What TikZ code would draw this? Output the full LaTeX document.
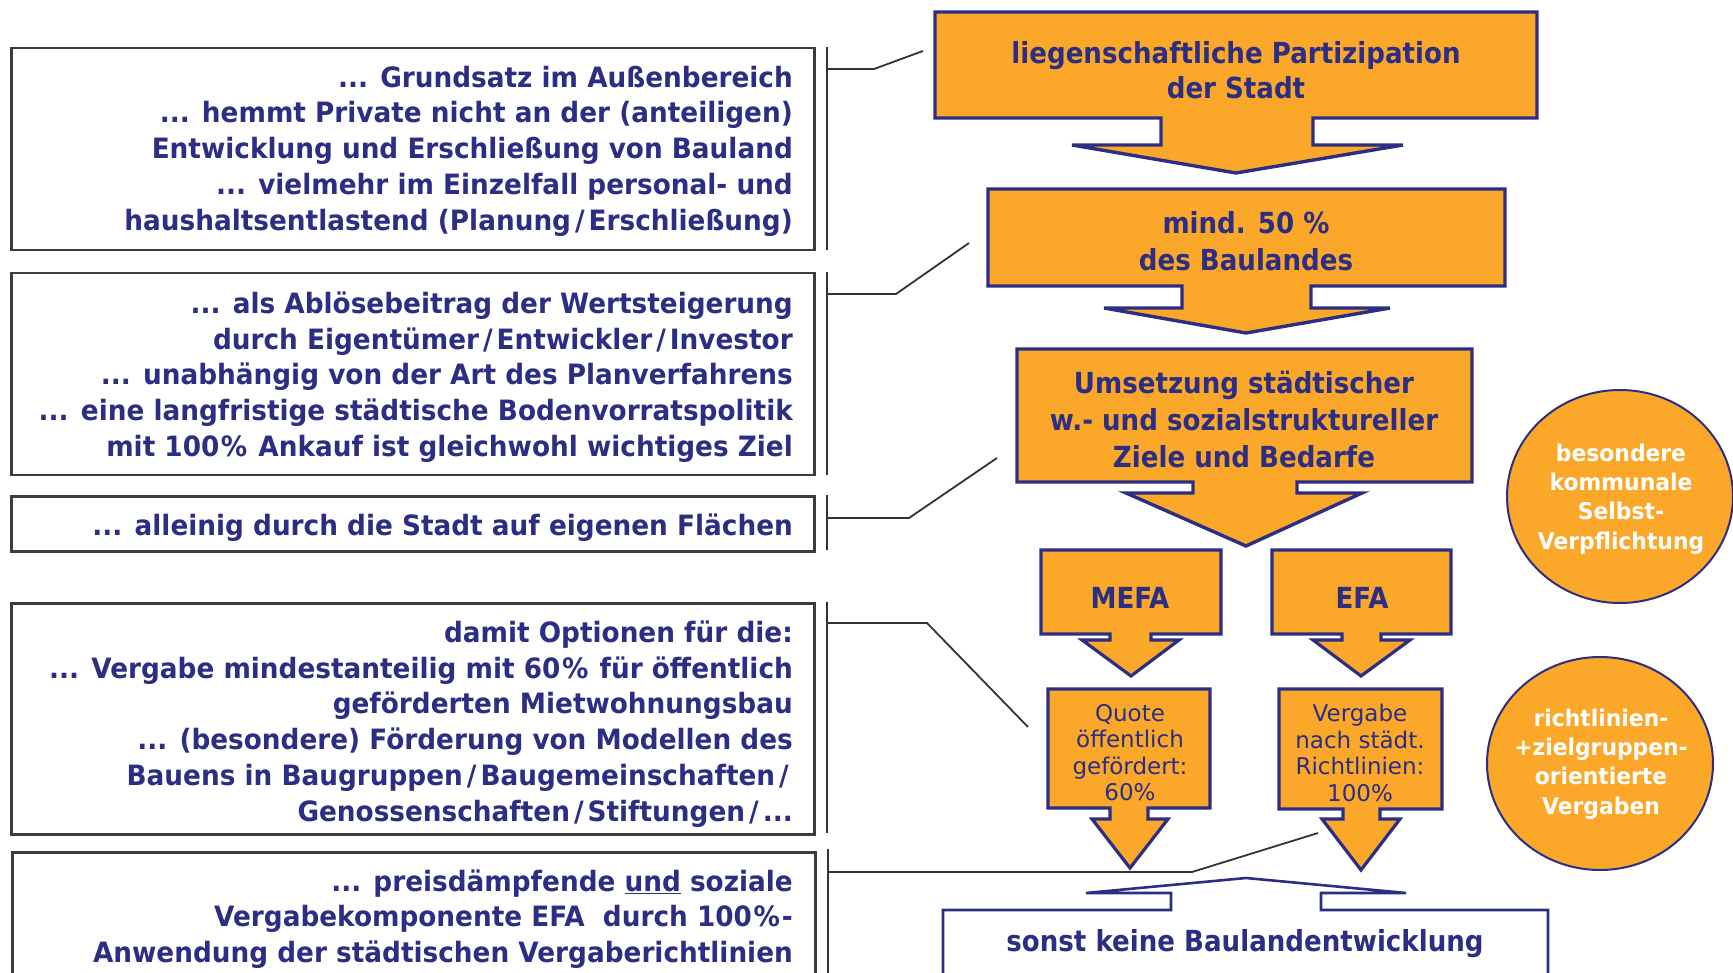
\documentclass[tikz,border=0pt]{standalone}
\usepackage{fontspec}
\usetikzlibrary{shapes.geometric}
\setmainfont{DejaVu Sans}
\newfontfamily\lfont[FakeStretch=0.94]{DejaVu Sans}
\newfontfamily\rfont[FakeStretch=0.9]{DejaVu Sans}
\newfontfamily\cfont[FakeStretch=0.95]{DejaVu Sans}
\definecolor{navy}{RGB}{43,46,130}
\definecolor{orng}{RGB}{250,167,42}
\definecolor{frame}{RGB}{60,60,60}
\newcommand\sls{\kern4pt/\kern4pt}
\newcommand\pct{\kern1.5pt\%\kern2pt}
\begin{document}
\begin{tikzpicture}[x=1pt,y=-1pt,
  leftbox/.style={draw=frame, line width=2.5pt, fill=white, anchor=north west, inner sep=0pt},
  lefttext/.style={anchor=east, inner sep=0pt, align=right, text=navy,
    font={\lfont\bfseries\fontsize{28}{35.8}\selectfont}},
  bracket/.style={draw=black!80, line width=1.8pt},
  callout/.style={draw=navy, fill=orng, line width=3.4pt, line join=miter},
  smallcallout/.style={draw=navy, fill=orng, line width=3.2pt, line join=miter},
  upcallout/.style={draw=navy, fill=white, line width=2.6pt, line join=miter},
  rtext/.style={inner sep=0pt, align=center, text=navy,
    font={\rfont\bfseries\fontsize{29}{37}\selectfont}},
  stext/.style={inner sep=0pt, align=center, text=navy,
    font={\fontsize{23}{26.3}\selectfont}},
  circ/.style={ellipse, draw=navy, fill=orng, line width=2pt, inner sep=0pt,
    minimum width=226pt, minimum height=213pt},
  ctext/.style={inner sep=0pt, align=center, text=white,
    font={\cfont\bfseries\fontsize{23}{29.3}\selectfont}}
]
\useasboundingbox (0,0) rectangle (1733,973);

% ---------- left boxes ----------
\node[leftbox, minimum width=803pt, minimum height=202pt] (b1) at (10,47) {};
\node[lefttext] (t1) at (793,151) {... Grundsatz im Außenbereich\\
... hemmt Private nicht an der (anteiligen)\\
Entwicklung und Erschließung von Bauland\\
... vielmehr im Einzelfall personal- und\\
haushaltsentlastend (Planung\sls Erschließung)};

\node[leftbox, minimum width=803pt, minimum height=202pt] (b2) at (10,272) {};
\node[lefttext] (t2) at (793,377) {... als Ablösebeitrag der Wertsteigerung\\
durch Eigentümer\sls Entwickler\sls Investor\\
... unabhängig von der Art des Planverfahrens\\
... eine langfristige städtische Bodenvorratspolitik\\
mit 100\pct{} Ankauf ist gleichwohl wichtiges Ziel};

\node[leftbox, minimum width=803pt, minimum height=55pt] (b3) at (10,495) {};
\node[lefttext] (t3) at (793,528) {... alleinig durch die Stadt auf eigenen Flächen};

\node[leftbox, minimum width=803pt, minimum height=231pt] (b4) at (10,602) {};
\node[lefttext] (t4) at (793,724) {damit Optionen für die:\\
... Vergabe mindestanteilig mit 60\pct{} für öffentlich\\
geförderten Mietwohnungsbau\\
... (besondere) Förderung von Modellen des\\
Bauens in Baugruppen\sls Baugemeinschaften\sls\\
Genossenschaften\sls Stiftungen\sls ...};

\node[leftbox, minimum width=803pt, minimum height=140pt] (b5) at (11,851) {};
\node[lefttext] (t5) at (793,919) {... preisdämpfende \underline{und} soziale\\
Vergabekomponente EFA~ durch 100\pct{}-\\
Anwendung der städtischen Vergaberichtlinien};

% ---------- right: callout shapes ----------
\draw[callout] (935,12) -- (1537,12) -- (1537,118) -- (1313,118) -- (1313,145) -- (1403,145)
  -- (1236,173) -- (1072,145) -- (1161,145) -- (1161,118) -- (935,118) -- cycle;
\node[rtext, font={\rfont\bfseries\fontsize{29}{35}\selectfont}] (cA) at (1236,70) {liegenschaftliche Partizipation\\der Stadt};

\draw[callout] (988,189) -- (1505,189) -- (1505,286) -- (1311,286) -- (1311,308) -- (1390,308)
  -- (1246,333) -- (1104,308) -- (1182,308) -- (1182,286) -- (988,286) -- cycle;
\node[rtext] (cB) at (1246,241.5) {mind. 50 \%\\des Baulandes};

\draw[callout] (1017,349) -- (1472,349) -- (1472,482) -- (1297,482) -- (1297,493) -- (1362,493)
  -- (1246,546) -- (1126,493) -- (1193,493) -- (1193,482) -- (1017,482) -- cycle;
\node[rtext] (cC) at (1244,419) {Umsetzung städtischer\\w.- und sozialstruktureller\\Ziele und Bedarfe};

\draw[smallcallout] (1041,550) -- (1221,550) -- (1221,634) -- (1151,634) -- (1151,640) -- (1179,640)
  -- (1131,676) -- (1082,640) -- (1110,640) -- (1110,634) -- (1041,634) -- cycle;
\node[rtext] (cM) at (1130,597.5) {MEFA};

\draw[smallcallout] (1272,550) -- (1451,550) -- (1451,634) -- (1381,634) -- (1381,640) -- (1410,640)
  -- (1361,676) -- (1313,640) -- (1342,640) -- (1342,634) -- (1272,634) -- cycle;
\node[rtext] (cE) at (1362,597.5) {EFA};

\draw[smallcallout] (1048,689) -- (1210,689) -- (1210,808) -- (1148,808) -- (1148,819) -- (1168,819)
  -- (1130,868) -- (1092,819) -- (1110,819) -- (1110,808) -- (1048,808) -- cycle;
\node[stext] (cQ) at (1130,752.5) {Quote\\öffentlich\\gefördert:\\60\%};

\draw[smallcallout] (1279,689) -- (1442,689) -- (1442,809) -- (1380,809) -- (1380,819) -- (1400,819)
  -- (1361,870) -- (1322,819) -- (1343,819) -- (1343,809) -- (1279,809) -- cycle;
\node[stext, font={\fontsize{23}{26.6}\selectfont}] (cV) at (1360,753) {Vergabe\\nach städt.\\Richtlinien:\\100\%};

\draw[upcallout] (943,995) -- (943,910) -- (1171,910) -- (1171,893) -- (1086,893) -- (1246,878)
  -- (1406,893) -- (1321,893) -- (1321,910) -- (1548,910) -- (1548,995);
\node[rtext] (cS) at (1245,944) {sonst keine Baulandentwicklung};

% ---------- circles ----------
\node[circ] (k1) at (1620,496.5) {};
\node[ctext] (k1t) at (1621,499) {besondere\\kommunale\\Selbst-\\Verpflichtung};
\node[circ] (k2) at (1600,763.5) {};
\node[ctext] (k2t) at (1601,764) {richtlinien-\\+zielgruppen-\\orientierte\\Vergaben};

% ---------- brackets ----------
\coordinate (v1a) at (827,47);  \coordinate (v1b) at (827,250);
\coordinate (s1a) at (827,69);  \coordinate (s1b) at (874,69);  \coordinate (e1) at (923,51);
\coordinate (v2a) at (827,272); \coordinate (v2b) at (827,475);
\coordinate (s2a) at (827,294); \coordinate (s2b) at (896,294); \coordinate (e2) at (969,243);
\coordinate (v3a) at (827,495); \coordinate (v3b) at (827,550);
\coordinate (s3a) at (827,518); \coordinate (s3b) at (909,518); \coordinate (e3) at (997,458);
\coordinate (v4a) at (827,602); \coordinate (v4b) at (827,833);
\coordinate (s4a) at (827,623); \coordinate (s4b) at (927,623); \coordinate (e4) at (1028,727);
\coordinate (v5a) at (828,849); \coordinate (v5b) at (828,995);
\coordinate (s5a) at (828,872); \coordinate (s5b) at (1192,872); \coordinate (e5) at (1318,833);

\draw[bracket] (v1a) -- (v1b);  \draw[bracket] (s1a) -- (s1b) -- (e1);
\draw[bracket] (v2a) -- (v2b);  \draw[bracket] (s2a) -- (s2b) -- (e2);
\draw[bracket] (v3a) -- (v3b);  \draw[bracket] (s3a) -- (s3b) -- (e3);
\draw[bracket] (v4a) -- (v4b);  \draw[bracket] (s4a) -- (s4b) -- (e4);
\draw[bracket] (v5a) -- (v5b);  \draw[bracket] (s5a) -- (s5b) -- (e5);
\end{tikzpicture}
\end{document}
